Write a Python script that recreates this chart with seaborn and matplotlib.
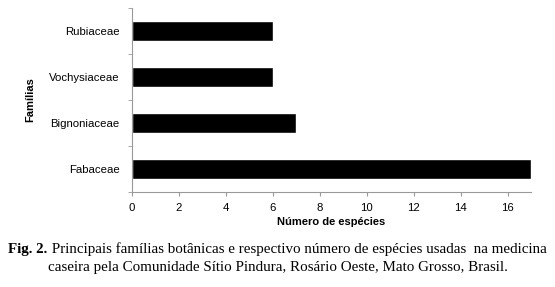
import matplotlib
matplotlib.use("Agg")
import matplotlib.pyplot as plt
import seaborn as sns
import pandas as pd

familias = ["Rubiaceae", "Vochysiaceae", "Bignoniaceae", "Fabaceae"]
especies = [6, 6, 7, 17]
xticks = [0, 2, 4, 6, 8, 10, 12, 14, 16]

sns.set_style("white")
plt.rcParams['font.family'] = ['Liberation Sans', 'DejaVu Sans']
plt.rcParams['text.color'] = 'black'
plt.rcParams['axes.labelcolor'] = 'black'
plt.rcParams['xtick.labelcolor'] = 'black'
plt.rcParams['ytick.labelcolor'] = 'black'

df = pd.DataFrame({"Famílias": familias, "Número de espécies": especies})

fig = plt.figure(figsize=(5.55, 2.87), dpi=100)
ax = fig.add_axes([132/555, 1-192/287, (531-132)/555, (192-8)/287])
sns.barplot(data=df, x="Número de espécies", y="Famílias", order=familias,
            color="black", width=0.42, orient="h", ax=ax, saturation=1)
ax.set_xlim(0, 17)
ax.set_ylim(len(familias)-0.5, -0.5)
ax.set_xticks(xticks)
ax.set_xticklabels([str(t) for t in xticks], fontsize=8.2)
ax.set_yticks(range(len(familias)))
ax.set_yticklabels(familias, fontsize=8.2)
ax.set_yticks([i - 0.5 for i in range(len(familias)+1)], minor=True)
ax.tick_params(axis='y', which='major', length=0, pad=9)
ax.tick_params(axis='y', which='minor', length=3, color='#999999', direction='out', left=True)
ax.tick_params(axis='x', which='major', length=3, color='#999999', direction='out', bottom=True, pad=5)
for s in ['top', 'right']:
    ax.spines[s].set_visible(False)
for s in ['left', 'bottom']:
    ax.spines[s].set_color('#999999')
    ax.spines[s].set_linewidth(0.8)
ax.set_xlabel("Número de espécies", fontsize=8, fontweight='bold', labelpad=3)
ax.set_ylabel("Famílias", fontsize=8, fontweight='bold', labelpad=10)

# caption
cap_font = ['Liberation Serif', 'DejaVu Serif']
fs = 10.8
t1 = fig.text(0, 1-249/287, "Fig. 2.", fontsize=fs, fontweight='bold', family=cap_font, va='center', ha='left')
t2 = fig.text(0, 1-249/287, " Principais famílias botânicas e respectivo número de espécies usadas  na medicina",
              fontsize=fs, family=cap_font, va='center', ha='left')
fig.text(0.5, 1-268/287, "caseira pela Comunidade Sítio Pindura, Rosário Oeste, Mato Grosso, Brasil.",
         fontsize=fs, family=cap_font, va='center', ha='center')
fig.canvas.draw()
r = fig.canvas.get_renderer()
w1 = t1.get_window_extent(r).width
w2 = t2.get_window_extent(r).width
W = fig.bbox.width
start = (W - (w1 + w2)) / 2
t1.set_x(start / W)
t2.set_x((start + w1) / W)

fig.savefig("out.png", dpi=100)
